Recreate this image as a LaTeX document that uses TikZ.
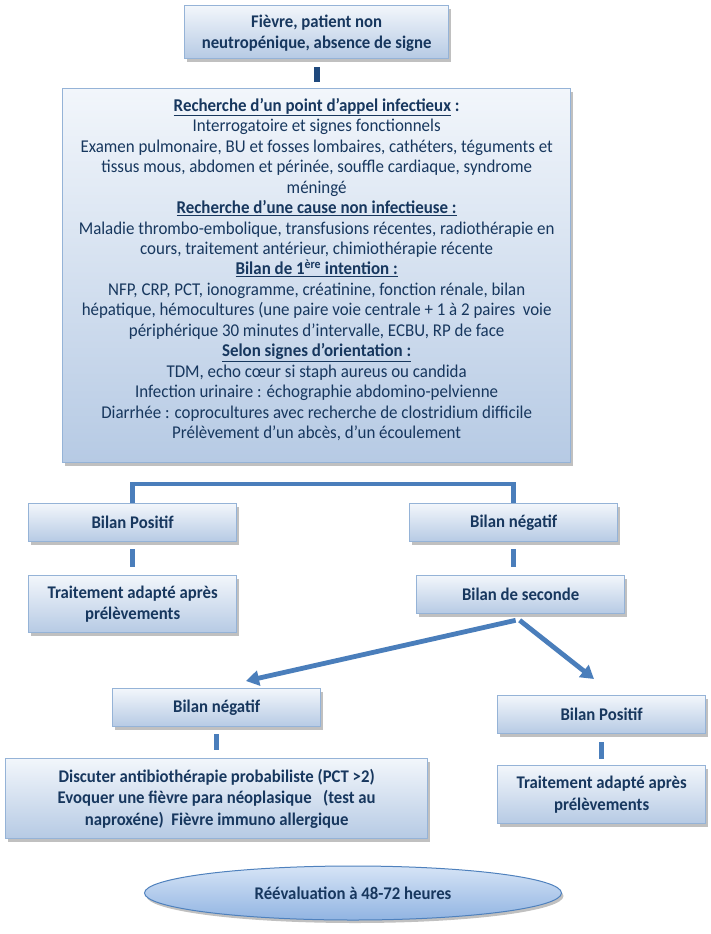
\documentclass[tikz,border=0pt]{standalone}
\usepackage{fontspec}
\setmainfont{Carlito}[FakeStretch=0.94]
\usetikzlibrary{shadows,shapes.geometric,arrows.meta,calc}
\definecolor{boxborder}{RGB}{149,179,215}
\definecolor{boxtop}{RGB}{242,246,251}
\definecolor{boxbot}{RGB}{182,202,228}
\definecolor{navy}{RGB}{23,55,94}
\definecolor{linecol}{RGB}{74,126,187}
\definecolor{darkbar}{RGB}{31,73,125}
\definecolor{elltop}{RGB}{214,228,246}
\definecolor{ellbot}{RGB}{145,180,226}
\definecolor{ellborder}{RGB}{79,129,189}
\begin{document}
\begin{tikzpicture}[x=1pt,y=-1pt,
  box/.style={draw=boxborder, line width=1.3pt, top color=boxtop, bottom color=boxbot,
    drop shadow={shadow xshift=2pt, shadow yshift=-3pt, fill=black!45, opacity=0.55},
    text=navy, font=\fontsize{17.8}{21.3}\selectfont\bfseries, align=center,
    inner sep=2pt, anchor=north west},
  bigbox/.style={box},
  bigtext/.style={text=navy, font=\fontsize{18}{20.45}\selectfont, align=center,
    inner sep=0pt, anchor=north},
  ell/.style={ellipse, draw=ellborder, line width=1pt, top color=elltop, bottom color=ellbot,
    drop shadow={shadow xshift=2pt, shadow yshift=-3pt, fill=black!45, opacity=0.55},
    text=navy, font=\fontsize{17.8}{21}\selectfont\bfseries, inner sep=0pt},
  bar/.style={draw=linecol, line width=5pt},
  arr/.style={draw=linecol, line width=4.8pt, -{Triangle[length=13pt,width=15pt]}}]
\useasboundingbox (0,0) rectangle (710,934);

\node[box, minimum width=264pt, minimum height=53pt] (top) at (184,5)
  {\rule{0pt}{15pt}Fièvre, patient non\\neutropénique, absence de signe};

\node[bigbox, minimum width=508pt, minimum height=374pt] (big) at (62,88) {};
\node[bigtext] (bigtxt) at ($(big.north)+(0,10)$)
  {\underline{\textbf{Recherche d’un point d’appel infectieux}}\textbf{ :}\\
   Interrogatoire et signes fonctionnels\\
   Examen pulmonaire, BU et fosses lombaires, cathéters, téguments et\\
   tissus mous, abdomen et périnée, souffle cardiaque, syndrome\\
   méningé\\
   \underline{\textbf{Recherche d’une cause non infectieuse :}}\\
   Maladie thrombo-embolique, transfusions récentes, radiothérapie en\\
   cours, traitement antérieur, chimiothérapie récente\\
   \underline{\textbf{Bilan de 1\textsuperscript{ère} intention :}}\\
   NFP, CRP, PCT, ionogramme, créatinine, fonction rénale, bilan\\
   hépatique, hémocultures (une paire voie centrale + 1 à 2 paires\ \ voie\\
   périphérique 30 minutes d’intervalle, ECBU, RP de face\\
   \underline{\textbf{Selon signes d’orientation :}}\\
   TDM, echo cœur si staph aureus ou candida\\
   Infection urinaire : échographie abdomino-pelvienne\\
   Diarrhée : coprocultures avec recherche de clostridium difficile\\
   Prélèvement d’un abcès, d’un écoulement};

\node[box, minimum width=208pt, minimum height=38pt] (bp) at (28,503) {Bilan Positif};
\node[box, minimum width=208pt, minimum height=38pt] (bn) at (409,503) {Bilan négatif};
\node[box, minimum width=208pt, minimum height=57pt] (tl) at (28,575)
  {Traitement adapté après\\prélèvements};
\node[box, minimum width=208pt, minimum height=38pt] (sec) at (416,575) {Bilan de seconde};
\node[box, minimum width=208pt, minimum height=38pt] (nb2) at (112,688) {Bilan négatif};
\node[box, minimum width=208pt, minimum height=38pt] (pb2) at (497,695) {Bilan Positif};
\node[box, minimum width=422pt, minimum height=80pt] (disc) at (5,758)
  {Discuter antibiothérapie probabiliste (PCT >2)\\
   Evoquer une fièvre para néoplasique\ \ \ (test au\\
   naproxéne)\ \ Fièvre immuno allergique};
\node[box, minimum width=208pt, minimum height=58pt] (tr) at (497,765)
  {Traitement adapté après\\prélèvements};
\node[ell, minimum width=417pt, minimum height=54pt] (re) at (353,893)
  {Réévaluation à 48-72 heures};

\draw[bar, draw=darkbar, line width=6pt, shorten <=8pt, shorten >=6pt] (top.south) -- (big.north);
\draw[bar, line width=4.5pt] (bp.north) -- ++(0,-19) -| (bn.north);
\draw[bar, shorten <=7pt, shorten >=8pt] (bp.south) -- (tl.north);
\draw[bar, shorten <=7pt, shorten >=8pt] (bn.south) -- (bn.south |- sec.north);
\draw[bar, shorten <=7pt, shorten >=8pt] (nb2.south) -- (nb2.south |- disc.north);
\draw[bar, shorten <=8pt, shorten >=6pt] (pb2.south) -- (pb2.south |- tr.north);

\coordinate (s1) at ($(sec.south)+(-5,6)$);
\coordinate (e1) at (246,681);
\coordinate (s2) at ($(sec.south)+(-1,6)$);
\coordinate (e2) at (594,679);
\draw[arr] (s1) -- (e1);
\draw[arr] (s2) -- (e2);
\end{tikzpicture}
\end{document}
